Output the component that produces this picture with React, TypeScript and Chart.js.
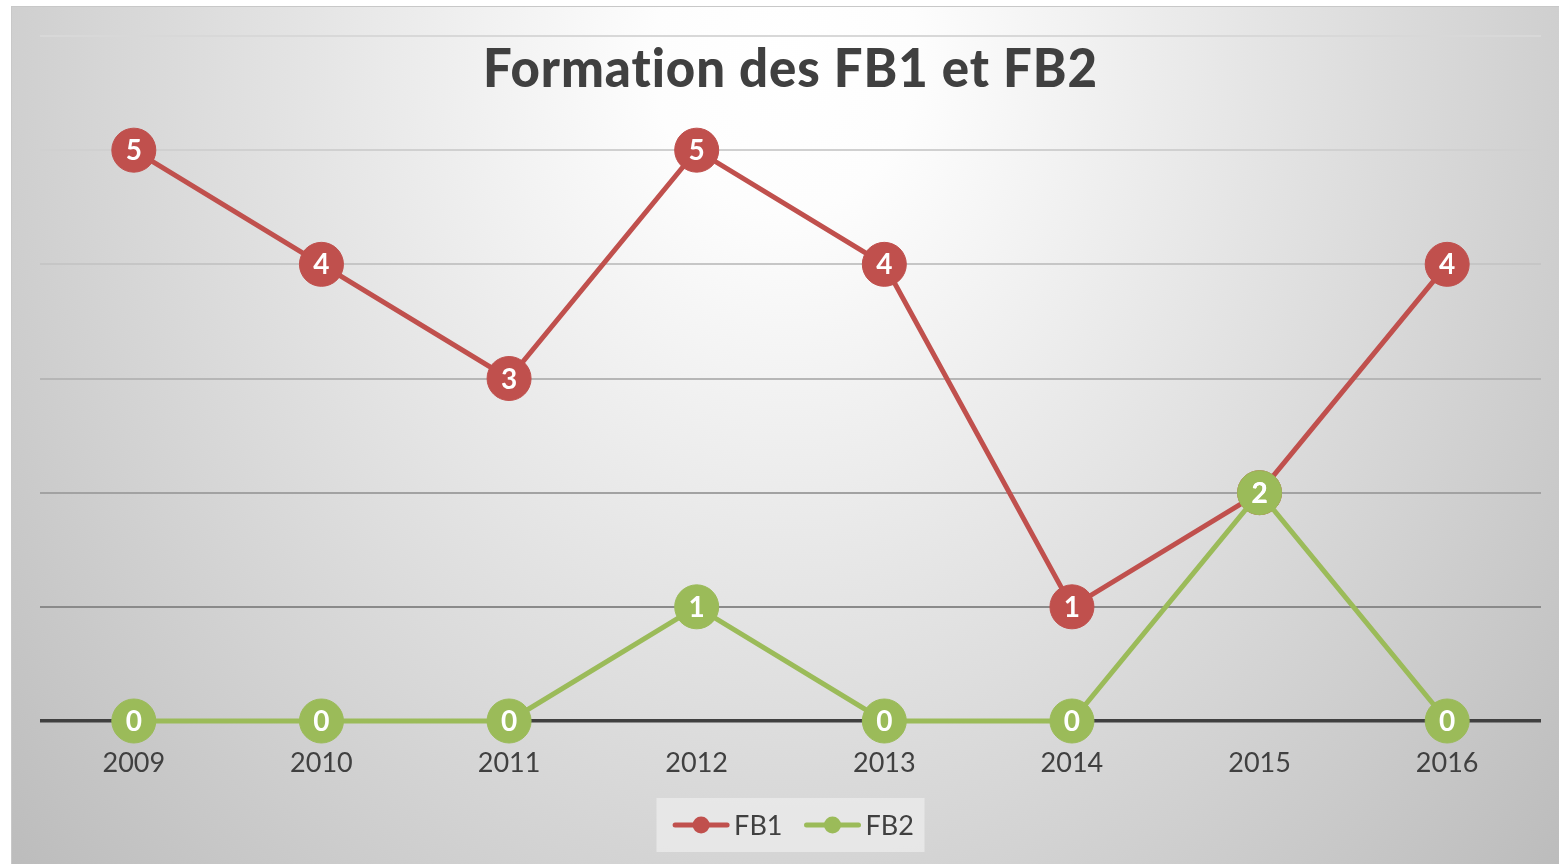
import React, { useEffect, useRef } from 'react';
import { Chart, registerables } from 'chart.js';

Chart.register(...registerables);

const years = ['2009', '2010', '2011', '2012', '2013', '2014', '2015', '2016'];
const fb1 = [5, 4, 3, 5, 4, 1, 2, 4];
const fb2 = [0, 0, 0, 1, 0, 0, 2, 0];
const seriesNames = ['FB1', 'FB2'];
const titleText = 'Formation des FB1 et FB2';
const yMin = 0;
const yMax = 6;

const RED = '#C0504D';
const GREEN = '#9BBB59';
const TEXT = '#404040';
const gridColors = ['#404040', '#8a8a8a', '#a2a2a2', '#b6b6b6', '#c6c6c6', '#d0d0d0', '#d8d8d8'];

const W = 1548;
const H = 858;

const decor = {
  id: 'decor',
  beforeDraw(chart: any) {
    const ctx = chart.ctx;
    ctx.save();
    const sy = 1.15;
    ctx.translate(774, 54);
    ctx.scale(1, sy);
    const g = ctx.createRadialGradient(0, 0, 0, 0, 0, 1100);
    g.addColorStop(0, '#ffffff');
    g.addColorStop(0.12, '#fdfdfd');
    g.addColorStop(1, '#b8b8b8');
    ctx.fillStyle = g;
    ctx.fillRect(-774, -54 / sy, W, H / sy);
    ctx.restore();
    ctx.save();
    ctx.strokeStyle = '#c8c8c8';
    ctx.lineWidth = 1;
    ctx.strokeRect(0.5, 0.5, W, H);
    ctx.restore();
  },
  afterDatasetsDraw(chart: any) {
    const ctx = chart.ctx;
    ctx.save();
    ctx.fillStyle = '#ffffff';
    ctx.font = 'bold 28px Lato';
    ctx.textAlign = 'center';
    ctx.textBaseline = 'alphabetic';
    chart.data.datasets.forEach((ds: any, di: number) => {
      const meta = chart.getDatasetMeta(di);
      meta.data.forEach((pt: any, i: number) => {
        ctx.fillText(String(ds.data[i]), pt.x, pt.y + 10);
      });
    });
    ctx.restore();
  },
  afterDraw(chart: any) {
    const ctx = chart.ctx;
    const area = chart.chartArea;
    const cx = (area.left + area.right) / 2;
    ctx.save();
    // Title
    ctx.fillStyle = TEXT;
    ctx.font = '900 54px Lato';
    try {
      (ctx as any).textRendering = 'optimizeSpeed';
      (ctx as any).letterSpacing = '1px';
    } catch (e) {}
    ctx.textAlign = 'center';
    ctx.textBaseline = 'alphabetic';
    const tw = ctx.measureText(titleText).width;
    ctx.translate(cx, 81);
    ctx.scale(615 / tw, 1);
    ctx.fillText(titleText, 0, 0);
    ctx.restore();

    // Legend
    ctx.save();
    const boxW = 268;
    const boxH = 54;
    const boxTop = 792;
    ctx.fillStyle = 'rgba(236,236,236,0.75)';
    ctx.fillRect(cx - boxW / 2, boxTop, boxW, boxH);
    ctx.font = '27px Lato';
    const lineW = 56;
    const gap = 5;
    const itemGap = 22;
    const colors = [RED, GREEN];
    const widths = seriesNames.map((n) => ctx.measureText(n).width);
    const total = widths.reduce((a, b) => a + b, 0) + seriesNames.length * (lineW + gap) + itemGap * (seriesNames.length - 1);
    let x = cx - total / 2 + 3;
    const ly = boxTop + boxH / 2;
    seriesNames.forEach((n, i) => {
      ctx.strokeStyle = colors[i];
      ctx.lineWidth = 5;
      ctx.lineCap = 'round';
      ctx.beginPath();
      ctx.moveTo(x + 2, ly);
      ctx.lineTo(x + lineW - 2, ly);
      ctx.stroke();
      ctx.fillStyle = colors[i];
      ctx.beginPath();
      ctx.arc(x + lineW / 2, ly, 8.5, 0, Math.PI * 2);
      ctx.fill();
      ctx.fillStyle = TEXT;
      ctx.textAlign = 'left';
      ctx.textBaseline = 'alphabetic';
      ctx.fillText(n, x + lineW + gap, ly + 10);
      x += lineW + gap + widths[i] + itemGap;
    });
    ctx.restore();
  },
};

export default function App() {
  const ref = useRef<HTMLCanvasElement | null>(null);
  useEffect(() => {
    if (!ref.current) return;
    const chart = new Chart(ref.current, {
      type: 'line',
      data: {
        labels: years,
        datasets: [
          {
            label: seriesNames[0],
            data: fb1,
            borderColor: RED,
            backgroundColor: RED,
            borderWidth: 5,
            pointRadius: 22,
            pointBorderWidth: 1,
            pointBackgroundColor: RED,
            pointBorderColor: RED,
            tension: 0,
            clip: false,
            order: 1,
          },
          {
            label: seriesNames[1],
            data: fb2,
            borderColor: GREEN,
            backgroundColor: GREEN,
            borderWidth: 5,
            pointRadius: 22,
            pointBorderWidth: 1,
            pointBackgroundColor: GREEN,
            pointBorderColor: GREEN,
            tension: 0,
            clip: false,
            order: 0,
          },
        ],
      },
      options: {
        responsive: false,
        animation: false,
        events: [],
        layout: { autoPadding: false, padding: { left: 29, right: 18, top: 30, bottom: 0 } },
        plugins: {
          legend: { display: false },
          title: { display: false },
          tooltip: { enabled: false },
        },
        scales: {
          x: {
            type: 'category',
            offset: true,
            grid: { display: false, drawTicks: false },
            border: { display: false },
            ticks: {
              color: TEXT,
              font: { family: 'Lato', size: 27 },
              padding: 26,
              maxRotation: 0,
            },
            afterFit: (s: any) => {
              s.height = 143;
              s.paddingRight = 0;
              s.paddingLeft = 0;
            },
          },
          y: {
            min: yMin,
            max: yMax,
            ticks: { display: false, stepSize: 1 },
            border: { display: false },
            grid: {
              drawTicks: false,
              color: (c: any) => gridColors[c.tick ? c.tick.value : 0] || '#d0d0d0',
              lineWidth: (c: any) => (c.tick && c.tick.value === 0 ? 3.5 : 2),
            },
            afterFit: (s: any) => {
              s.width = 0;
            },
          },
        },
      },
      plugins: [decor],
    } as any);
    return () => chart.destroy();
  }, []);
  return (
    <div style={{ position: 'absolute', left: 11, top: 6, width: W, height: H }}>
      <canvas ref={ref} width={W} height={H} style={{ width: W, height: H, display: 'block' }} />
    </div>
  );
}
